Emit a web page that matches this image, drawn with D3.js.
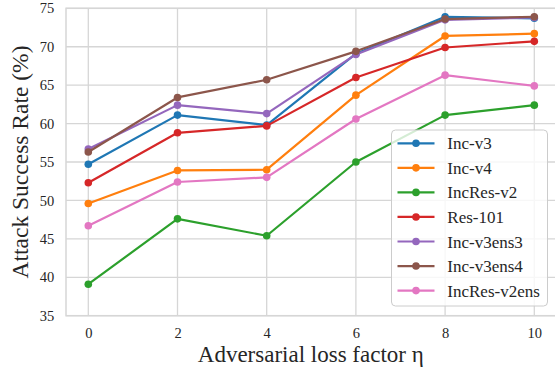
<!DOCTYPE html>
<html>
<head>
<meta charset="utf-8">
<script src="https://cdn.jsdelivr.net/npm/d3@7"></script>
<style>
  html, body { margin: 0; padding: 0; background: #fff; }
  svg { display: block; }
  text { font-family: 'Liberation Serif', 'Times New Roman', serif; }
</style>
</head>
<body>
<svg id="chart" width="555" height="371"></svg>
<script>
const xValues = [0, 2, 4, 6, 8, 10];
const yTicks = [35, 40, 45, 50, 55, 60, 65, 70, 75];
const seriesNames = ["Inc-v3", "Inc-v4", "IncRes-v2", "Res-101", "Inc-v3ens3", "Inc-v3ens4", "IncRes-v2ens"];
const incV3 = [54.7, 61.1, 59.8, 69.1, 73.9, 73.7];
const incV4 = [49.6, 53.9, 54.0, 63.7, 71.4, 71.7];
const incResV2 = [39.1, 47.6, 45.4, 55.0, 61.1, 62.4];
const res101 = [52.3, 58.8, 59.7, 66.0, 69.9, 70.7];
const incV3ens3 = [56.7, 62.4, 61.3, 69.0, 73.5, 73.8];
const incV3ens4 = [56.3, 63.4, 65.7, 69.4, 73.6, 73.9];
const incResV2ens = [46.7, 52.4, 53.0, 60.6, 66.3, 64.9];
const colors = ["#1f77b4", "#ff7f0e", "#2ca02c", "#d62728", "#9467bd", "#8c564b", "#e377c2"];
const xLabel = "Adversarial loss factor η";
const yLabel = "Attack Success Rate (%)";

const allSeries = [incV3, incV4, incResV2, res101, incV3ens3, incV3ens4, incResV2ens];

const svg = d3.select("#chart");
const pL = 66, pR = 556.6, pT = 8.3, pB = 315.7;
const x = d3.scaleLinear().domain([-0.5, 10.5]).range([pL, pR]);
const y = d3.scaleLinear().domain([35, 75]).range([pB, pT]);
const textColor = "#262626";
const gridColor = "#d6d6d6";
const font = "'Liberation Serif', 'Times New Roman', serif";

// grid
const g = svg.append("g");
g.selectAll("line.gx").data(xValues).enter().append("line")
  .attr("x1", d => x(d)).attr("x2", d => x(d))
  .attr("y1", pT).attr("y2", pB)
  .attr("stroke", gridColor).attr("stroke-width", 1.3);
g.selectAll("line.gy").data(yTicks).enter().append("line")
  .attr("x1", pL).attr("x2", pR)
  .attr("y1", d => y(d)).attr("y2", d => y(d))
  .attr("stroke", gridColor).attr("stroke-width", 1.3);
// spines
g.append("rect").attr("x", pL).attr("y", pT)
  .attr("width", pR - pL).attr("height", pB - pT)
  .attr("fill", "none").attr("stroke", gridColor).attr("stroke-width", 1.5);

// axes using d3 axis for tick labels
const xAxis = d3.axisBottom(x).tickValues(xValues).tickSize(0).tickPadding(12.3);
const xg = svg.append("g").attr("transform", `translate(0,${pB})`).call(xAxis)
  .attr("font-family", font).attr("font-size", 14.5);
xg.select(".domain").remove();
xg.selectAll("text").style("font-family", font).attr("font-size", 14.5).attr("fill", textColor);

const yAxis = d3.axisLeft(y).tickValues(yTicks).tickSize(0).tickPadding(11.7);
const yg = svg.append("g").attr("transform", `translate(${pL},0)`).call(yAxis)
  .attr("font-family", font).attr("font-size", 14.5);
yg.select(".domain").remove();
yg.selectAll("text").style("font-family", font).attr("font-size", 14.5).attr("fill", textColor);

// labels
svg.append("text").attr("x", (pL + pR) / 2 - 0.5).attr("y", 362)
  .attr("text-anchor", "middle").style("font-family", font).attr("font-size", 23)
  .attr("fill", textColor).text(xLabel);
svg.append("text").attr("transform", `translate(28,${(pT + pB) / 2}) rotate(-90)`)
  .attr("text-anchor", "middle").style("font-family", font).attr("font-size", 23.5)
  .attr("fill", textColor).text(yLabel);

// lines
const line = d3.line().x((d, i) => x(xValues[i])).y(d => y(d));
allSeries.forEach((s, k) => {
  const sg = svg.append("g");
  sg.append("path").datum(s).attr("d", line)
    .attr("fill", "none").attr("stroke", colors[k]).attr("stroke-width", 2.2)
    .attr("stroke-linejoin", "round");
  sg.selectAll("circle").data(s).enter().append("circle")
    .attr("cx", (d, i) => x(xValues[i])).attr("cy", d => y(d))
    .attr("r", 3.8).attr("fill", colors[k]);
});

// legend
const lg = svg.append("g");
lg.append("rect").attr("x", 391.5).attr("y", 130).attr("width", 156).attr("height", 176)
  .attr("rx", 4).attr("fill", "#fff").attr("fill-opacity", 0.8)
  .attr("stroke", "#cccccc").attr("stroke-width", 1);
seriesNames.forEach((name, k) => {
  const yy = 143.3 + k * 24.55;
  lg.append("line").attr("x1", 397.5).attr("x2", 434.5).attr("y1", yy).attr("y2", yy)
    .attr("stroke", colors[k]).attr("stroke-width", 2.2);
  lg.append("circle").attr("cx", 416).attr("cy", yy).attr("r", 3.8).attr("fill", colors[k]);
  lg.append("text").attr("x", 447.3).attr("y", yy + 6)
    .style("font-family", font).attr("font-size", 17).attr("fill", textColor).text(name);
});
</script>
</body>
</html>
